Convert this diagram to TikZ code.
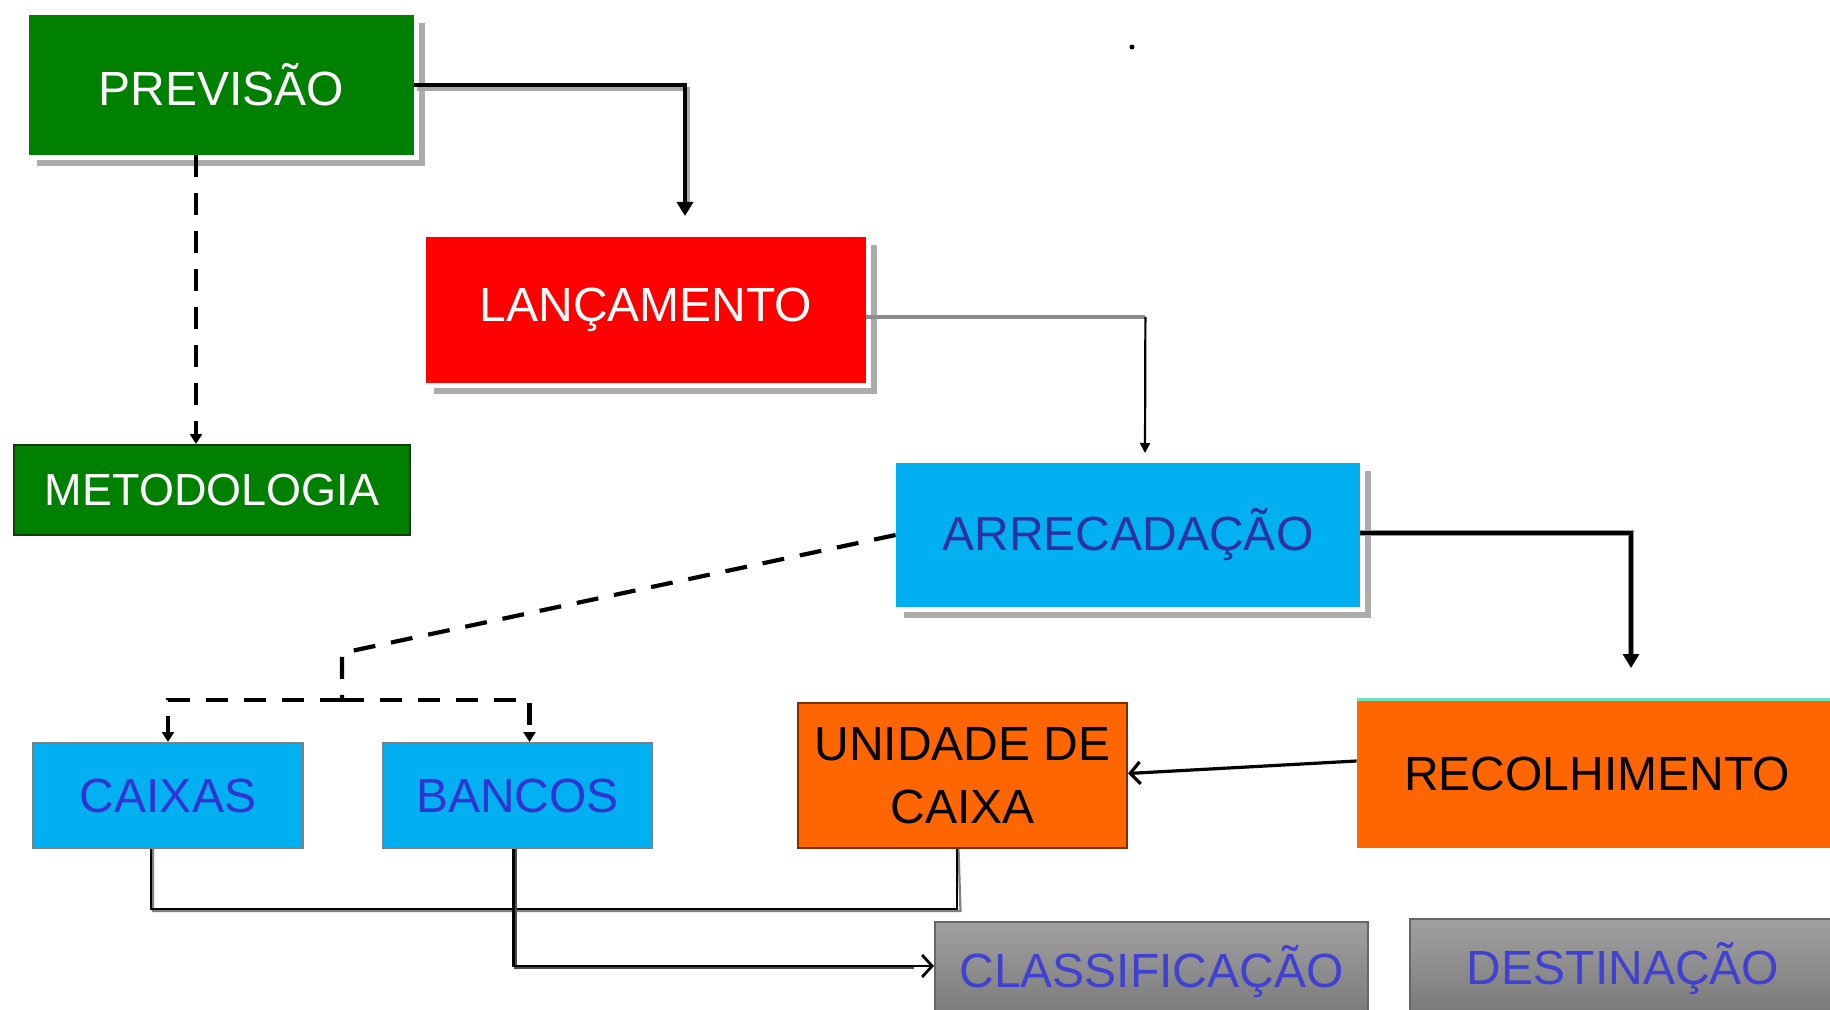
\documentclass[tikz,border=0pt]{standalone}
\usepackage{fontspec}
\setmainfont{Liberation Sans}
\usetikzlibrary{arrows.meta,backgrounds,calc}
\definecolor{pgreen}{RGB}{0,128,0}
\definecolor{mgreen}{RGB}{20,60,20}
\definecolor{lred}{RGB}{255,0,0}
\definecolor{acyan}{RGB}{0,176,240}
\definecolor{aorange}{RGB}{255,102,0}
\definecolor{dblue}{RGB}{46,49,160}
\definecolor{mblue}{RGB}{51,51,210}
\definecolor{gtop}{RGB}{160,160,160}
\definecolor{gbot}{RGB}{120,120,120}
\definecolor{gtext}{RGB}{64,64,210}
\definecolor{shad}{RGB}{172,172,172}
\definecolor{brownb}{RGB}{120,50,0}
\definecolor{tealb}{RGB}{110,225,195}
\newcommand\mkshadow[1]{%
  \fill[shad] ($(#1.north west)+(8,8)$) rectangle ($(#1.south east)+(11,11)$);
  \fill[white] ($(#1.north west)+(-2,-2)$) rectangle ($(#1.south east)+(5,5)$);}
\begin{document}
\begin{tikzpicture}[x=0.5pt,y=-0.5pt,
  box/.style={rectangle,inner sep=0pt,align=center,font=\fontsize{24}{31.5}\selectfont},
  thickarr/.style={line width=2.4pt,-{Triangle[length=7pt,width=8pt]}},
  thinarr/.style={line width=1.1pt,-{Triangle[length=5pt,width=5pt]}},
  dsh/.style={line width=2.1pt,dash pattern=on 11pt off 8pt},
  dsharr/.style={dsh,-{Triangle[length=5pt,width=6pt]}},
  barb/.style={line width=1.6pt,-{Straight Barb[length=5pt,width=11pt]}},
  plain/.style={line width=1.1pt}]
\useasboundingbox (0,0) rectangle (1830,1010);
\clip (0,0) rectangle (1830,1010);

% boxes
\node[box,fill=pgreen,text=white,minimum width=192.5pt,minimum height=70pt] (prev) at (221.5,85) {PREVISÃO};
\node[box,fill=lred,text=white,minimum width=220pt,minimum height=73pt] (lanc) at (646,310) {LANÇAMENTO};
\node[box,fill=pgreen,draw=mgreen,line width=1pt,text=white,minimum width=198pt,minimum height=45pt,font=\fontsize{22.5}{27}\selectfont] (metod) at (212,490) {METODOLOGIA};
\node[box,fill=acyan,text=dblue,minimum width=232pt,minimum height=72pt] (arrec) at (1128,535) {ARRECADAÇÃO};
\node[box,fill=acyan,draw=gray,line width=1pt,text=mblue,minimum width=135pt,minimum height=52.5pt] (caixas) at (168,795.5) {CAIXAS};
\node[box,fill=acyan,draw=gray,line width=1pt,text=mblue,minimum width=134.5pt,minimum height=52.5pt] (bancos) at (517.5,795.5) {BANCOS};
\node[box,fill=aorange,draw=brownb,line width=1pt,text=black,minimum width=164.5pt,minimum height=72.5pt] (unid) at (962.5,775.5) {UNIDADE DE\\CAIXA};
\node[box,fill=aorange,text=black,minimum width=240pt,minimum height=74pt] (recol) at (1597,774) {RECOLHIMENTO};
\draw[tealb,line width=1.5pt] (recol.north west) -- (recol.north east);
\node[box,top color=gtop,bottom color=gbot,draw=gray!80!black,line width=1pt,text=gtext,minimum width=216.5pt,minimum height=50pt] (classif) at (1151.5,972) {CLASSIFICAÇÃO};
\node[box,top color=gtop,bottom color=gbot,draw=gray!80!black,line width=1pt,text=gtext,minimum width=213pt,minimum height=50pt] (destin) at (1623,969) {DESTINAÇÃO};

\begin{scope}[on background layer]
  \fill[white] (0,0) rectangle (1830,1010);
  \mkshadow{prev}
  \mkshadow{lanc}
  \mkshadow{arrec}
\end{scope}

% stray dot
\fill[black] (1132,47) circle (2.5);

% connectors
\coordinate (a1) at (685,216);
\coordinate (a2) at (1145,453);
\coordinate (a3) at (1631,668);
\coordinate (j1) at (342,653);
\coordinate (j2) at (342,700);

\draw[line width=2.4pt,gray!70,line join=miter] ($(prev.east)+(3,4)$) -| ($(a1)+(3,-10)$);
\draw[thickarr] (prev.east) -| (a1);

\coordinate (p1) at ([xshift=-12.75pt]prev.south);
\draw[dsharr] (p1) -- (p1 |- metod.north);

\draw[line width=2.4pt,gray!90] ([yshift=-3.5pt]lanc.east) -- ++(279,0) coordinate (l1);
\draw[thinarr] (l1) -- (a2);

\draw[line width=3.4pt,gray!80] ([yshift=1pt]arrec.east) -| ($(a3)+(0,-12)$);
\draw[thickarr,line width=1.6pt] ([yshift=1pt]arrec.east) -| (a3);

\draw[barb] ([yshift=6.5pt]recol.west) -- ([yshift=1pt]unid.east);

\draw[dsh] (arrec.west) -- (j1) -- (j2);
\draw[dsharr] (j2) -| (caixas.north);
\draw[dsharr] (j2) -| ([xshift=6pt]bancos.north);

\draw[plain,gray] ([xshift=-7.5pt]caixas.south) |- ($(unid.south)+(-2,62)$) -- ([xshift=-2pt]unid.south);
\draw[plain] ([xshift=-8.5pt]caixas.south) -- ++(0,60) -| ([xshift=-2.75pt]unid.south);
\draw[plain,gray!60!black] ([xshift=-1pt]bancos.south) |- ($(classif.west)+(-20,-4)$);
\draw[barb,line width=1.4pt] ([xshift=-2pt]bancos.south) |- ([yshift=3pt]classif.west);
\end{tikzpicture}
\end{document}
